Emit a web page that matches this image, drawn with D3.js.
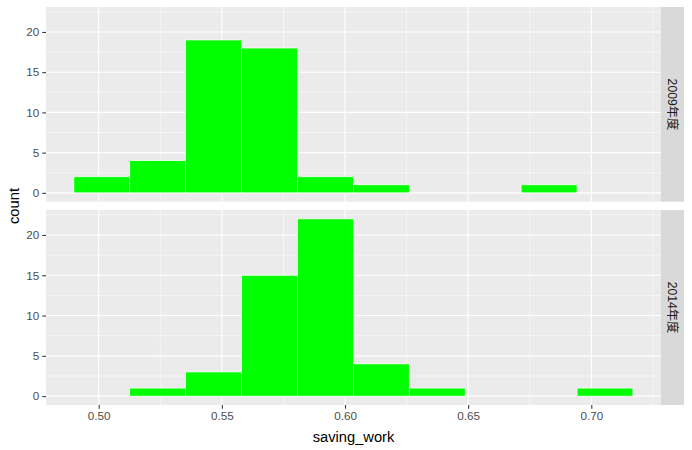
<!DOCTYPE html>
<html><head><meta charset="utf-8">
<script src="https://cdn.jsdelivr.net/npm/d3@7"></script>
<style>body{margin:0;background:#fff}</style>
</head><body>
<svg id="c" width="692" height="450"></svg>
<script>
const binEdges = [0.4899,0.5126,0.5353,0.5580,0.5807,0.6034,0.6261,0.6488,0.6715,0.6942,0.7169];
const facets = ["2009年度","2014年度"];
const counts2009 = [2,4,19,18,2,1,0,0,1,0];
const counts2014 = [0,1,3,15,22,4,1,0,0,1];
const xTicks = [0.50,0.55,0.60,0.65,0.70];
const xMinor = [0.475,0.525,0.575,0.625,0.675,0.725];
const yTicks = [0,5,10,15,20];
const yMinor = [2.5,7.5,12.5,17.5,22.5];

const svg = d3.select("#c");
const font = "Liberation Sans, Arial, sans-serif";
const left = 46, right = 661, stripW = 23;
const panels = [{top:7,bottom:201.7,counts:counts2009,label:facets[0]},
                {top:210,bottom:405,counts:counts2014,label:facets[1]}];
const x = d3.scaleLinear().domain([0.4786,0.7283]).range([left,right]);

panels.forEach(p=>{
  const y = d3.scaleLinear().domain([-1.1,23.1]).range([p.bottom,p.top]);
  const g = svg.append("g");
  g.append("rect").attr("x",left).attr("y",p.top).attr("width",right-left).attr("height",p.bottom-p.top).attr("fill","#EBEBEB");
  const inX = v => v>=x.domain()[0] && v<=x.domain()[1];
  g.selectAll(null).data(yMinor).enter().append("line")
    .attr("x1",left).attr("x2",right).attr("y1",d=>y(d)).attr("y2",d=>y(d))
    .attr("stroke","#fff").attr("stroke-width",0.53);
  g.selectAll(null).data(xMinor.filter(inX)).enter().append("line")
    .attr("y1",p.top).attr("y2",p.bottom).attr("x1",d=>x(d)).attr("x2",d=>x(d))
    .attr("stroke","#fff").attr("stroke-width",0.53);
  g.selectAll(null).data(yTicks).enter().append("line")
    .attr("x1",left).attr("x2",right).attr("y1",d=>y(d)).attr("y2",d=>y(d))
    .attr("stroke","#fff").attr("stroke-width",1.07);
  g.selectAll(null).data(xTicks).enter().append("line")
    .attr("y1",p.top).attr("y2",p.bottom).attr("x1",d=>x(d)).attr("x2",d=>x(d))
    .attr("stroke","#fff").attr("stroke-width",1.07);
  g.selectAll(null).data(p.counts.map((c,i)=>({c,x0:binEdges[i],x1:binEdges[i+1]})).filter(d=>d.c>0))
    .enter().append("rect")
    .attr("x",d=>x(d.x0)).attr("width",d=>x(d.x1)-x(d.x0))
    .attr("y",d=>y(d.c)).attr("height",d=>y(0)-y(d.c))
    .attr("fill","#00FF00").attr("stroke","#fff").attr("stroke-width",0.7);
  const ya = g.append("g").attr("transform",`translate(${left},0)`)
    .call(d3.axisLeft(y).tickValues(yTicks).tickSize(3.7).tickPadding(3).tickFormat(d3.format("d")));
  ya.select(".domain").remove();
  ya.selectAll(".tick line").attr("stroke","#333").attr("stroke-width",1.07);
  ya.selectAll(".tick text").attr("fill","#4D4D4D").style("font-family",font).style("font-size","11.7px");
  g.append("rect").attr("x",right).attr("y",p.top).attr("width",stripW).attr("height",p.bottom-p.top).attr("fill","#D9D9D9");
  g.append("text").attr("transform",`translate(${right+stripW/2},${(p.top+p.bottom)/2}) rotate(90)`)
    .attr("text-anchor","middle").attr("dy","0.35em")
    .attr("fill","#1A1A1A").style("font-family",font+", Noto Sans CJK SC").style("font-size","12.2px")
    .text(p.label);
});

const xa = svg.append("g").attr("transform","translate(0,405)")
  .call(d3.axisBottom(x).tickValues(xTicks).tickSize(3.7).tickPadding(3).tickFormat(d3.format(".2f")));
xa.select(".domain").remove();
xa.selectAll(".tick line").attr("stroke","#333").attr("stroke-width",1.07);
xa.selectAll(".tick text").attr("fill","#4D4D4D").style("font-family",font).style("font-size","11.7px");

svg.append("text").attr("x",(left+right)/2).attr("y",442).attr("text-anchor","middle")
  .style("font-family",font).style("font-size","14.7px").attr("fill","#000").text("saving_work");
svg.append("text").attr("transform","translate(19,206) rotate(-90)").attr("text-anchor","middle")
  .style("font-family",font).style("font-size","14.7px").attr("fill","#000").text("count");
</script>
</body></html>
